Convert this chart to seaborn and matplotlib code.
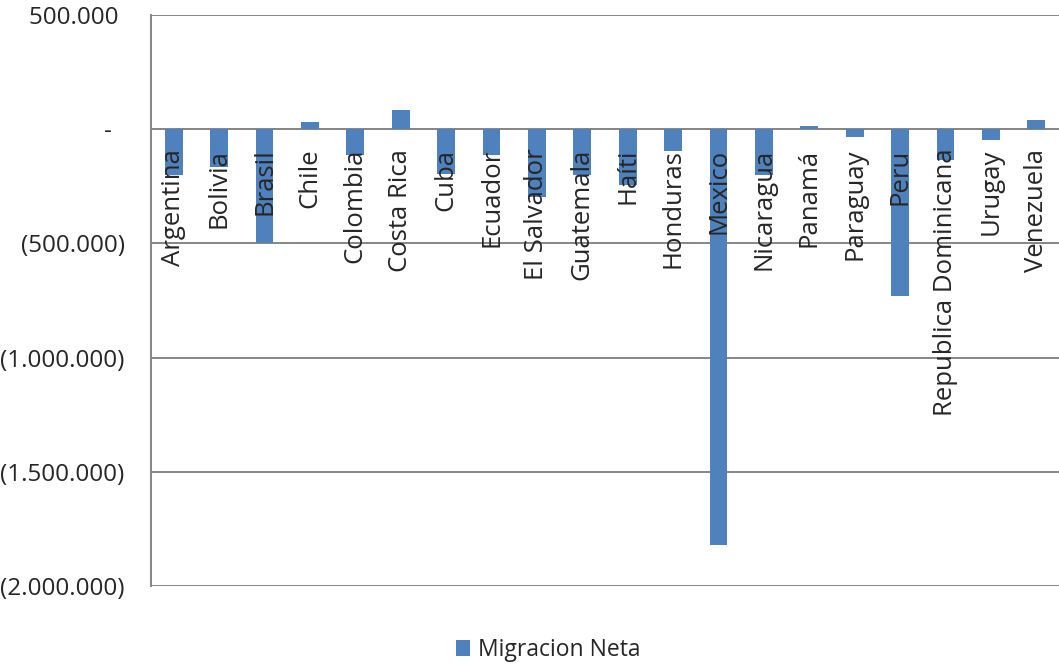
import pandas as pd
import matplotlib.pyplot as plt
import matplotlib.ticker as mticker
import seaborn as sns

# Data
paises = ["Argentina", "Bolivia", "Brasil", "Chile", "Colombia", "Costa Rica",
          "Cuba", "Ecuador", "El Salvador", "Guatemala", "Haíti", "Honduras",
          "Mexico", "Nicaragua", "Panamá", "Paraguay", "Peru",
          "Republica Dominicana", "Urugay", "Venezuela"]
migracion_neta = [-202000, -164000, -500000, 33000, -115000, 82000,
                  -194000, -115000, -295000, -202000, -246000, -94000,
                  -1819000, -202000, 12000, -36000, -729000,
                  -135000, -46000, 42000]
y_ticks = [500000, 0, -500000, -1000000, -1500000, -2000000]

df = pd.DataFrame({"pais": paises, "migracion": migracion_neta})

sns.set_style("white")
plt.rcParams["font.family"] = ["Open Sans", "DejaVu Sans"]

gris = "#868686"
azul = "#4F81BD"


def contable(v, pos=None):
    # formato contable estilo Excel, separador de miles con punto
    if v == 0:
        return "-  "
    txt = f"{abs(int(v)):,}".replace(",", ".")
    if v < 0:
        return f"({txt})"
    return txt + " "


fig = plt.figure(figsize=(10.59, 6.66), dpi=100)
ax = fig.add_axes([151 / 1059, 1 - 586 / 666, 1 - 151 / 1059, 571 / 666])

sns.barplot(data=df, x="pais", y="migracion", color=azul, width=0.39,
            saturation=1, linewidth=0, ax=ax, label="Migracion Neta")
for p in ax.patches:
    p.set_zorder(1)

ax.set_ylim(-2000000, 500000)
ax.set_xlim(-0.5, len(paises) - 0.5)
ax.set_yticks(y_ticks)
ax.yaxis.set_major_formatter(mticker.FuncFormatter(contable))
ax.tick_params(axis="y", direction="out", length=6, width=1.3, color=gris,
               labelsize=17.5, pad=13)

# gridlines behind the bars
for t in y_ticks:
    ax.axhline(t, color=gris, lw=1.4, zorder=0)

# category axis sitting on zero, ticks between categories
ax.spines["bottom"].set_position(("data", 0))
ax.spines["bottom"].set_color(gris)
ax.spines["bottom"].set_linewidth(1.4)
ax.spines["bottom"].set_zorder(0.5)
ax.spines["left"].set_color(gris)
ax.spines["left"].set_linewidth(1.4)
ax.spines["top"].set_visible(False)
ax.spines["right"].set_visible(False)
ax.xaxis.set_minor_locator(mticker.FixedLocator([i + 0.5 for i in range(len(paises))]))
ax.tick_params(axis="x", which="minor", direction="out", length=6, width=1.3,
               color=gris)
ax.tick_params(axis="x", which="major", length=0, labelsize=18.5, pad=14,
               labelrotation=90)
ax.xaxis.set_zorder(3)
for lbl in ax.get_xticklabels():
    lbl.set_va("top")

ax.set_xlabel("")
ax.set_ylabel("")
if ax.get_legend():
    ax.get_legend().remove()

h, l = ax.get_legend_handles_labels()
fig.legend(h[:1], l[:1], loc="lower center", bbox_to_anchor=(0.518, -0.025),
           frameon=False, fontsize=16.5, handlelength=0.6, handleheight=0.75,
           handletextpad=0.35)

fig.savefig("out.png", dpi=100)
